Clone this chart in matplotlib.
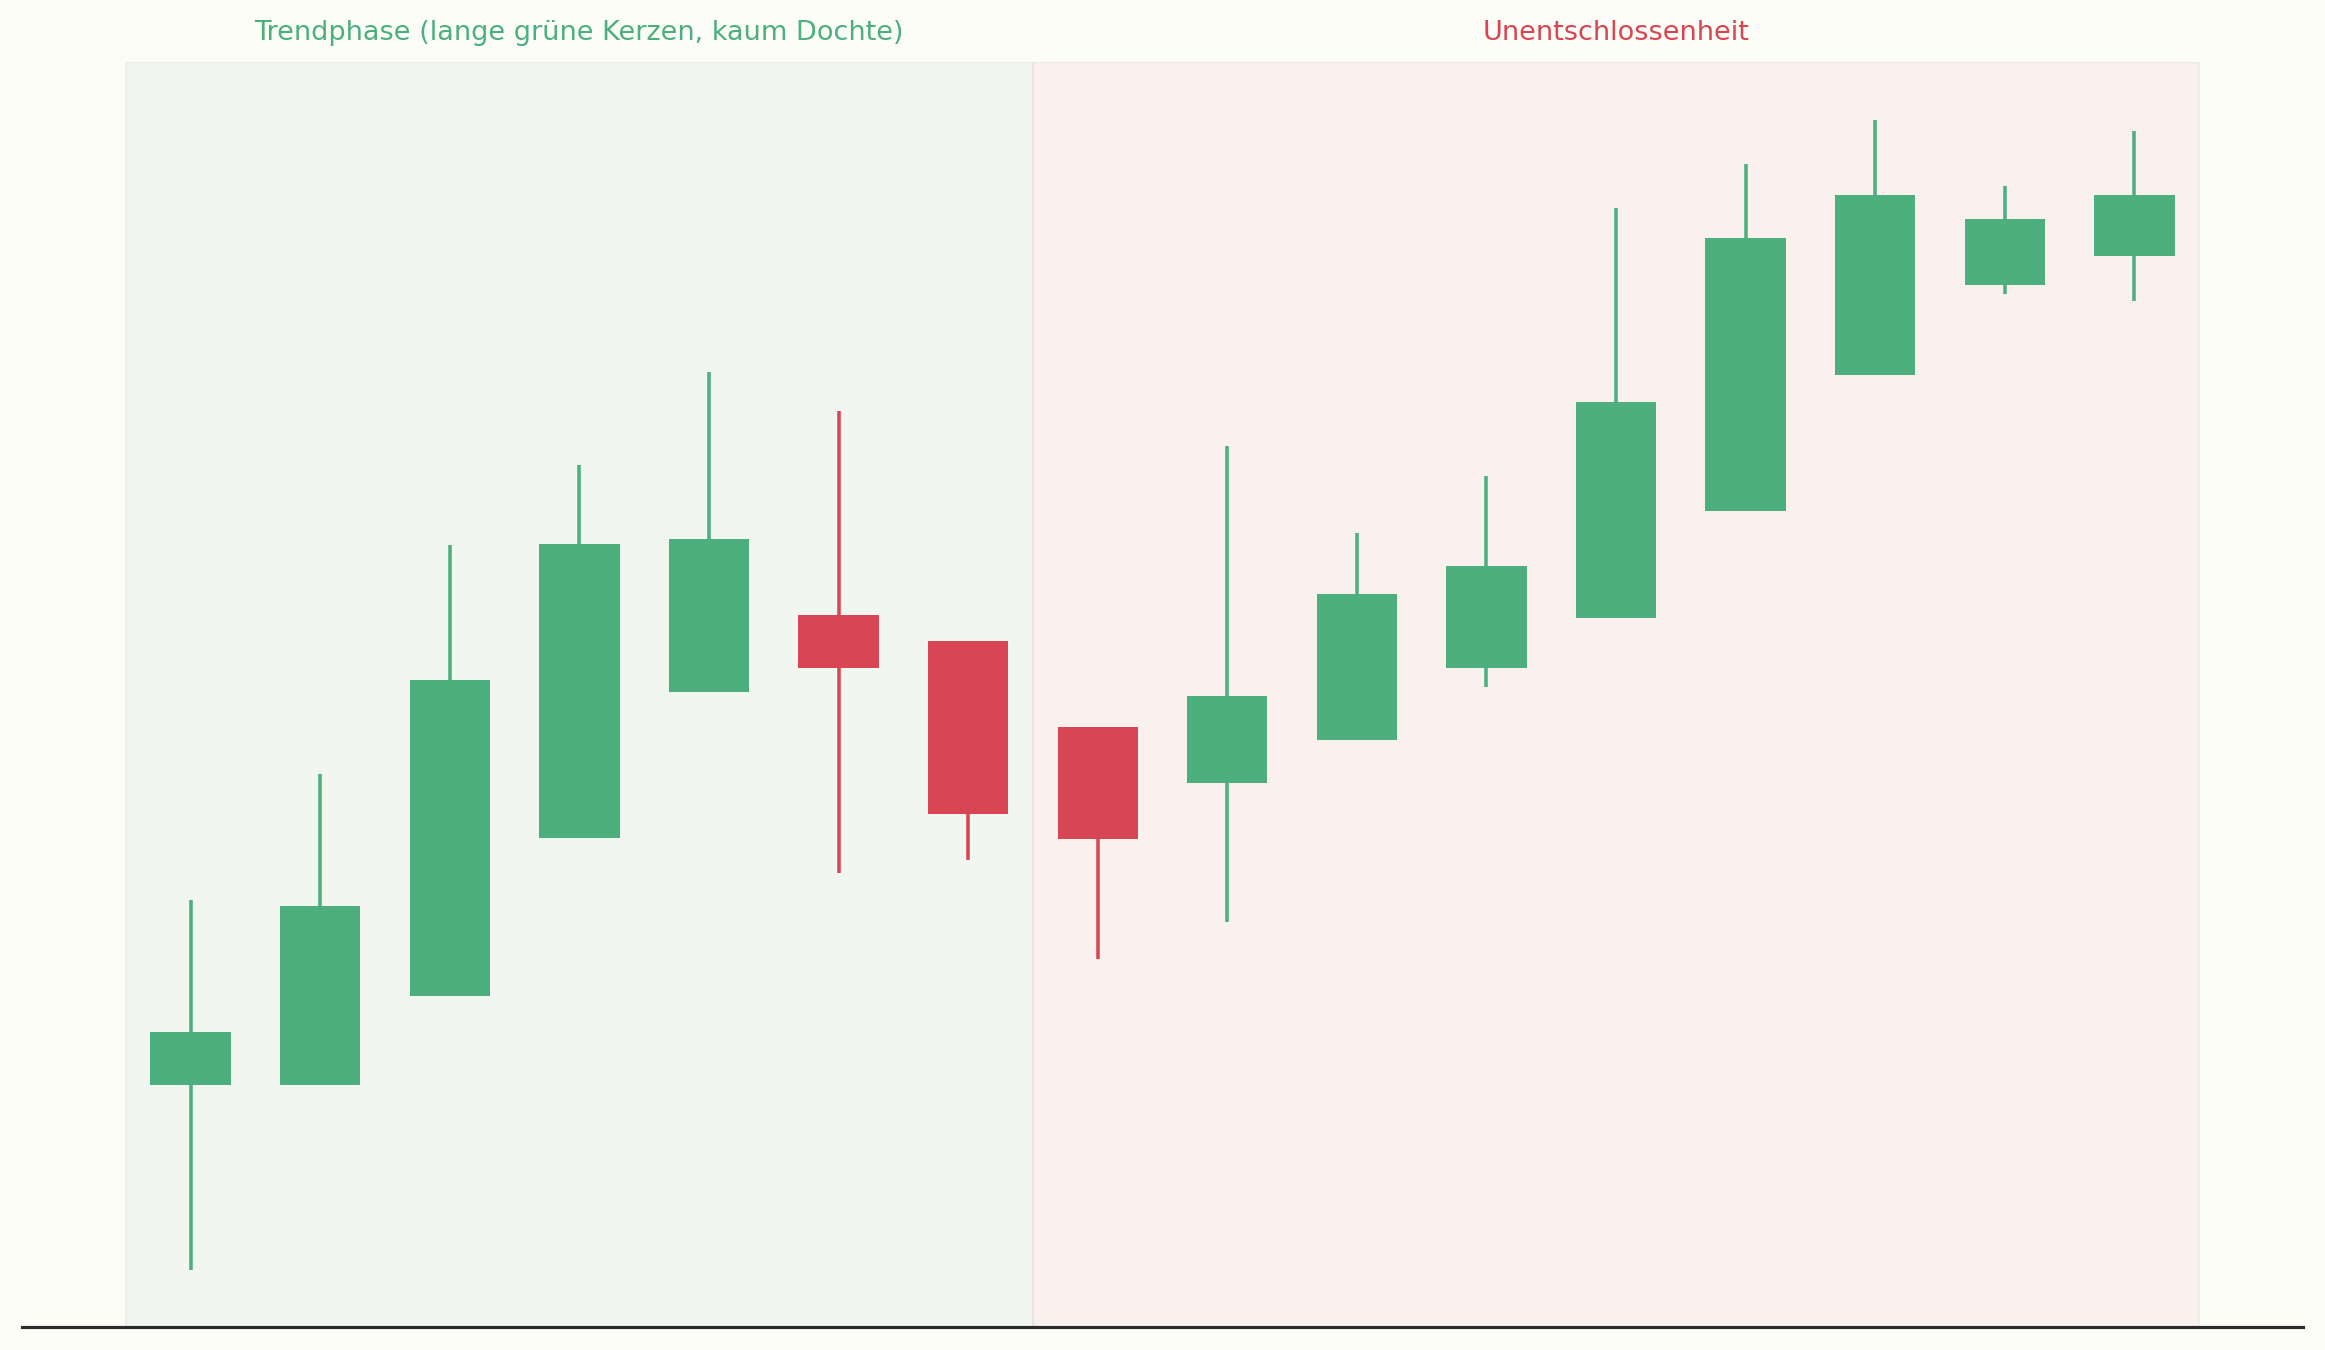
import numpy as np
import matplotlib
matplotlib.use("Agg")
import matplotlib.pyplot as plt

# OHLC values (arbitrary price scale, no y-axis shown)
opens = [106.25, 106.25, 109.25, 114.6, 119.55, 122.15, 121.25, 118.35,
         116.45, 117.9, 120.35, 122.05, 125.65, 130.25, 133.3, 134.3]
closes = [108.05, 112.3, 119.95, 124.55, 124.7, 120.35, 115.4, 114.55,
          119.4, 122.85, 123.8, 129.35, 134.9, 136.35, 135.55, 136.35]
highs = [112.5, 116.75, 124.5, 127.2, 130.35, 129.05, 121.25, 118.35,
         127.85, 124.9, 126.85, 135.9, 137.4, 138.9, 136.65, 138.5]
lows = [100.0, 106.25, 109.25, 114.6, 119.55, 113.4, 113.85, 110.5,
        111.75, 117.9, 119.7, 122.05, 125.65, 130.25, 133.0, 132.75]

phase_labels = ["Trendphase (lange grüne Kerzen, kaum Dochte)", "Unentschlossenheit"]
phase_ranges = [(-0.5, 6.5), (6.5, 15.5)]

GREEN = "#4caf7d"
RED = "#d84553"
BG = "#fdfdf8"

opens = np.array(opens)
closes = np.array(closes)
x = np.arange(len(opens))
up = closes >= opens
colors = [GREEN if u else RED for u in up]

fig = plt.figure(figsize=(15.5, 9), dpi=150, facecolor=BG)
ax = fig.add_axes([0.0095, 0.017, 0.981, 0.937])
ax.set_facecolor(BG)

# phase backgrounds
span_faces = ["#e6f2ea", "#f8e6e6"]
for (x0, x1), fc in zip(phase_ranges, span_faces):
    ax.axvspan(x0, x1, facecolor=fc, alpha=0.5, edgecolor="#e2e2dc",
               linewidth=1.0, zorder=0)

# wicks
ax.vlines(x, lows, highs, colors=colors, linewidth=1.7, zorder=2)

# bodies
bottoms = np.minimum(opens, closes)
heights = np.abs(closes - opens)
ax.bar(x, heights, bottom=bottoms, width=0.62, color=colors, zorder=3,
       linewidth=0)

ax.set_xlim(-1.3, 16.3)
lo, hi = min(lows), max(highs)
pad = (hi - lo) * 0.05
ax.set_ylim(lo - pad, hi + pad)

for (x0, x1), label, col in zip(phase_ranges, phase_labels, [GREEN, RED]):
    ax.text((x0 + x1) / 2, 1.023, label, transform=ax.get_xaxis_transform(),
            ha="center", va="center", fontsize=13, color=col)

for side in ["top", "left", "right"]:
    ax.spines[side].set_visible(False)
ax.spines["bottom"].set_color("#2b2b2b")
ax.spines["bottom"].set_linewidth(1.5)
ax.set_xticks([])
ax.set_yticks([])

fig.savefig("out.png", dpi=150, facecolor=BG)
